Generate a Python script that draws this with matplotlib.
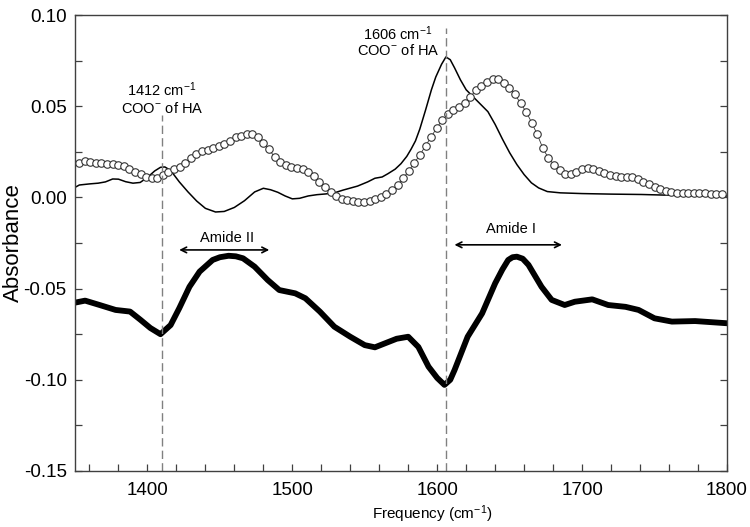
import numpy as np
import matplotlib
matplotlib.use('Agg')
import matplotlib.pyplot as plt
from matplotlib.ticker import MultipleLocator, FormatStrFormatter

plt.rcParams['font.family'] = ['Liberation Sans', 'DejaVu Sans']
plt.rcParams['mathtext.fontset'] = 'custom'
plt.rcParams['mathtext.rm'] = 'Liberation Sans'
plt.rcParams['mathtext.default'] = 'regular'

# thin solid spectrum (HA)
thin_x = [1350, 1353, 1360, 1366, 1371, 1376, 1380, 1385, 1390, 1395, 1400, 1405,
          1409, 1412, 1416, 1422, 1428, 1434, 1440, 1447, 1453, 1460, 1467, 1474,
          1480, 1485, 1490, 1495, 1500, 1505, 1511, 1517, 1523, 1529, 1535, 1545,
          1552, 1557, 1562, 1566, 1571, 1575, 1579, 1582, 1585, 1588, 1592, 1596,
          1599, 1603, 1606, 1609, 1612, 1616, 1620, 1625, 1630, 1635, 1640, 1645,
          1650, 1655, 1660, 1665, 1670, 1676, 1685, 1700, 1720, 1741, 1760, 1780, 1800]
thin_y = [0.0055, 0.0068, 0.0074, 0.0078, 0.0085, 0.0101, 0.0100, 0.0086, 0.0078, 0.0082,
          0.0110, 0.0145, 0.0165, 0.0167, 0.0148, 0.0085, 0.0030, -0.0020, -0.0060, -0.0080,
          -0.0077, -0.0055, -0.0018, 0.0030, 0.0050, 0.0042, 0.0028, 0.0008, -0.0008, -0.0005,
          0.0008, 0.0015, 0.0019, 0.0025, 0.0040, 0.0062, 0.0085, 0.0105, 0.0112, 0.0130,
          0.0155, 0.0185, 0.0225, 0.0265, 0.0310, 0.0375, 0.0480, 0.0590, 0.0660, 0.0730,
          0.0770, 0.0755, 0.0710, 0.0645, 0.0590, 0.0550, 0.0510, 0.0470, 0.0400, 0.0320,
          0.0245, 0.0180, 0.0125, 0.0080, 0.0052, 0.0032, 0.0025, 0.0021, 0.0018, 0.0016,
          0.0012, 0.0010, 0.0008]

# open circle spectrum, sampled every ~3.86 cm-1 from 1352.8
circ_start = 1352.8
circ_step = 3.857
circ_y = [0.0190, 0.0200, 0.0196, 0.0190, 0.0187, 0.0185, 0.0185, 0.0180, 0.0172, 0.0157,
          0.0141, 0.0128, 0.0114, 0.0105, 0.0108, 0.0121, 0.0138, 0.0154, 0.0168, 0.0190,
          0.0214, 0.0240, 0.0254, 0.0262, 0.0269, 0.0280, 0.0293, 0.0311, 0.0330, 0.0338,
          0.0346, 0.0346, 0.0330, 0.0300, 0.0264, 0.0220, 0.0192, 0.0178, 0.0165, 0.0160,
          0.0154, 0.0141, 0.0117, 0.0086, 0.0059, 0.0031, 0.0008, -0.0007, -0.0014, -0.0020,
          -0.0023, -0.0025, -0.0020, -0.0010, 0.0003, 0.0020, 0.0040, 0.0068, 0.0105, 0.0145,
          0.0190, 0.0232, 0.0284, 0.0330, 0.0382, 0.0424, 0.0456, 0.0479, 0.0497, 0.0520,
          0.0550, 0.0588, 0.0610, 0.0635, 0.0650, 0.0650, 0.0630, 0.0600, 0.0565, 0.0516,
          0.0470, 0.0410, 0.0345, 0.0269, 0.0215, 0.0180, 0.0150, 0.0128, 0.0128, 0.0141,
          0.0154, 0.0160, 0.0156, 0.0146, 0.0136, 0.0123, 0.0117, 0.0114, 0.0114, 0.0112,
          0.0103, 0.0086, 0.0072, 0.0058, 0.0044, 0.0035, 0.0028, 0.0026, 0.0025, 0.0024,
          0.0022, 0.0022, 0.0022, 0.0021, 0.0020, 0.0018]
circ_x = circ_start + circ_step * np.arange(len(circ_y))

# thick difference spectrum
thick_x = [1350, 1357, 1367, 1378, 1388, 1395, 1402, 1409, 1416, 1422, 1429, 1436,
           1445, 1450, 1456, 1461, 1466, 1474, 1483, 1491, 1502, 1509, 1519, 1529,
           1540, 1550, 1557, 1564, 1572, 1580, 1587, 1594, 1600, 1605, 1609, 1612,
           1621, 1631, 1640, 1645, 1649, 1652, 1655, 1659, 1663, 1672, 1679, 1688,
           1695, 1707, 1718, 1730, 1739, 1750, 1762, 1778, 1800]
thick_y = [-0.0577, -0.0566, -0.0590, -0.0617, -0.0626, -0.0670, -0.0716, -0.0750,
           -0.0700, -0.0607, -0.0490, -0.0407, -0.0343, -0.0328, -0.0320, -0.0323,
           -0.0334, -0.0380, -0.0453, -0.0508, -0.0526, -0.0553, -0.0626, -0.0709,
           -0.0764, -0.0810, -0.0822, -0.0800, -0.0775, -0.0764, -0.0820, -0.0928,
           -0.0990, -0.1028, -0.1000, -0.0946, -0.0764, -0.0636, -0.0471, -0.0395,
           -0.0343, -0.0328, -0.0325, -0.0336, -0.0370, -0.0490, -0.0562, -0.0590,
           -0.0572, -0.0559, -0.0590, -0.0600, -0.0617, -0.0663, -0.0681, -0.0678,
           -0.0690]

peak_lines = [1410, 1606]
peak_tops = [0.045, 0.093]

fig = plt.figure(figsize=(7.5, 5.27), dpi=100)
ax = fig.add_axes([0.1, 0.1063, 0.8693, 0.8652])

ax.plot(thin_x, thin_y, color='black', lw=1.1)
ax.plot(circ_x, circ_y, color='#333333', lw=0.6, marker='o', ms=5.4,
        mfc='white', mec='#333333', mew=0.8)
ax.plot(thick_x, thick_y, color='black', lw=4.2, solid_joinstyle='round',
        solid_capstyle='round')

for xv, top in zip(peak_lines, peak_tops):
    ax.plot([xv, xv], [-0.15, top], color='#808080', lw=1.0, dashes=(6, 3))

ax.text(1410, 0.059, '1412 cm$^{-1}$', ha='center', va='center', fontsize=10.5)
ax.text(1410, 0.049, 'COO$^{-}$ of HA', ha='center', va='center', fontsize=10.5)
ax.text(1573, 0.090, '1606 cm$^{-1}$', ha='center', va='center', fontsize=10.5)
ax.text(1573, 0.0805, 'COO$^{-}$ of HA', ha='center', va='center', fontsize=10.5)

ax.annotate('', xy=(1420, -0.0288), xytext=(1486, -0.0288),
            arrowprops=dict(arrowstyle='<->', color='black', lw=1.2))
ax.text(1455, -0.0225, 'Amide II', ha='center', va='center', fontsize=10.5)
ax.annotate('', xy=(1610, -0.026), xytext=(1688, -0.026),
            arrowprops=dict(arrowstyle='<->', color='black', lw=1.2))
ax.text(1651, -0.0175, 'Amide I', ha='center', va='center', fontsize=10.5)

ax.set_xlim(1350, 1800)
ax.set_ylim(-0.15, 0.10)
ax.xaxis.set_major_locator(MultipleLocator(100))
ax.xaxis.set_minor_locator(MultipleLocator(20))
ax.yaxis.set_major_locator(MultipleLocator(0.05))
ax.yaxis.set_minor_locator(MultipleLocator(0.025))
ax.yaxis.set_major_formatter(FormatStrFormatter('%.2f'))
ax.tick_params(axis='both', which='both', direction='in', length=5, width=0.9,
               color='#404040', labelsize=13.5)
ax.tick_params(axis='y', which='both', right=True, pad=6)
ax.tick_params(axis='x', which='both', top=False, pad=8)
for s in ax.spines.values():
    s.set_color('#404040')
    s.set_linewidth(1.0)

ax.set_ylabel('Absorbance', fontsize=16, va='center')
ax.yaxis.set_label_coords(-0.094, 0.5)
fig.text(0.577, 0.025, 'Frequency (cm$^{-1}$)', ha='center', va='center', fontsize=11)

fig.savefig('out.png', dpi=100)
